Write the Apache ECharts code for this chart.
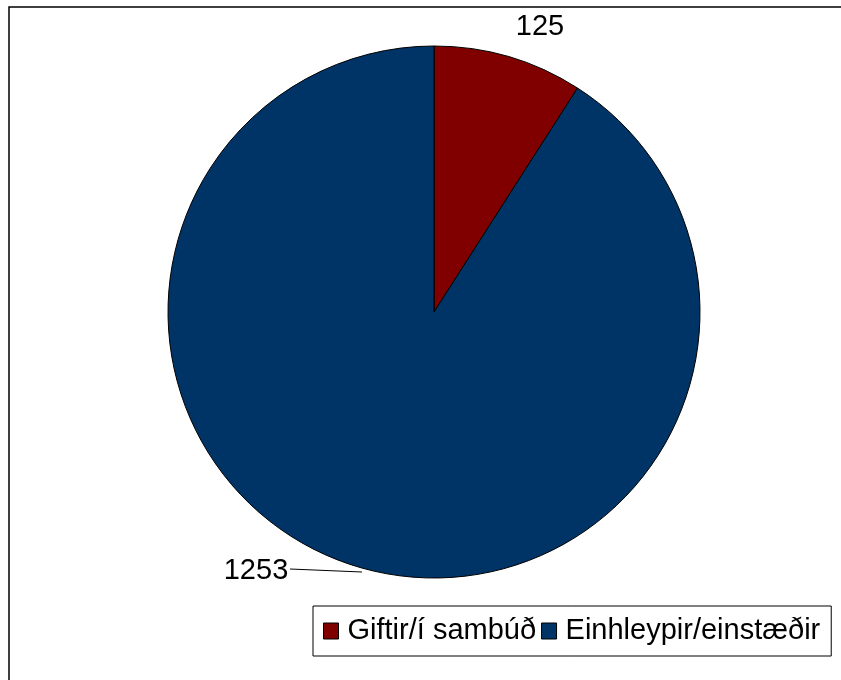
<!DOCTYPE html>
<html><head><meta charset="utf-8">
<script src="https://cdn.jsdelivr.net/npm/echarts@6/dist/echarts.min.js"></script>
<style>html,body{margin:0;padding:0;background:#fff}#c{width:841px;height:680px}</style>
</head><body><div id="c"></div>
<script>
const categories = ['Giftir/í sambúð', 'Einhleypir/einstæðir'];
const values = [125, 1253];
const colors = ['#800000', '#003366'];

const chart = echarts.init(document.getElementById('c'));
chart.setOption({
  animation: false,
  textStyle: { fontFamily: 'Liberation Sans' },
  graphic: [{
    type: 'rect', shape: { x: 9, y: 7, width: 900, height: 800 },
    style: { fill: 'none', stroke: '#000', lineWidth: 1.5 }, silent: true, z: -1
  }],
  legend: {
    data: categories,
    left: 313, top: 606,
    orient: 'horizontal',
    icon: 'rect', itemWidth: 15, itemHeight: 16, itemGap: 5,
    borderColor: '#000', borderWidth: 1,
    padding: [10, 11, 10, 10],
    textStyle: { fontSize: 29, lineHeight: 30, color: '#000', fontFamily: 'Liberation Sans', padding: [0, 0, 0, 4] },
    itemStyle: { borderColor: '#000', borderWidth: 1 }
  },
  series: [{
    type: 'pie',
    center: [434, 312],
    radius: 266,
    startAngle: 90,
    clockwise: true,
    data: categories.map((n, i) => ({ name: n, value: values[i], itemStyle: { color: colors[i] } })),
    itemStyle: { borderColor: '#000', borderWidth: 1 },
    label: {
      show: true, position: 'outside', formatter: '{c}',
      fontSize: 29, color: '#000', fontFamily: 'Liberation Sans'
    },
    labelLine: { show: true, lineStyle: { color: '#000', width: 1 }, length: 10, length2: 10 },
    labelLayout: function (p) {
      if (p.dataIndex === 0) {
        return { x: 540, y: 27, align: 'center', verticalAlign: 'middle', labelLinePoints: [[540, 27], [540, 27], [540, 27]] };
      }
      return { x: 256, y: 571, align: 'center', verticalAlign: 'middle', labelLinePoints: [[362, 572], [290, 569], [290, 569]] };
    },
    emphasis: { disabled: true }
  }]
});
</script></body></html>
